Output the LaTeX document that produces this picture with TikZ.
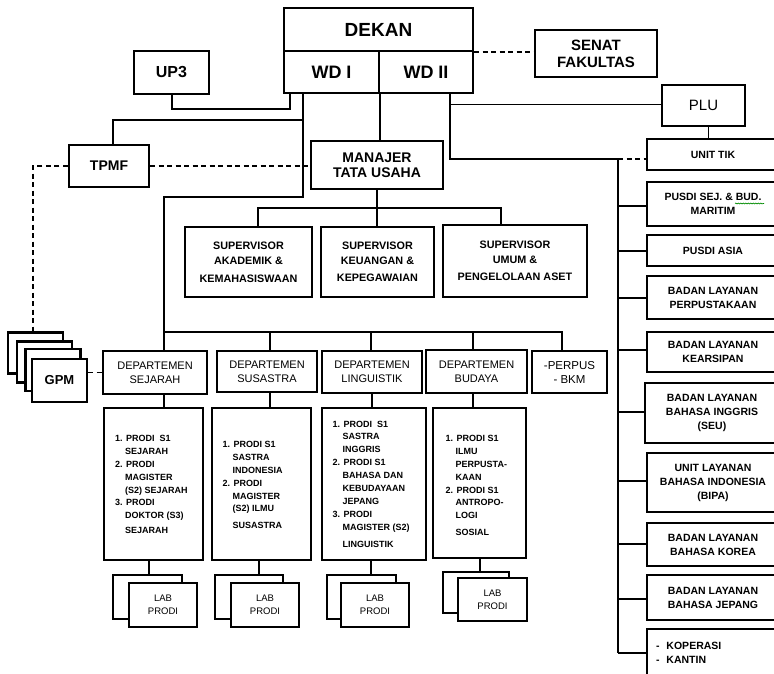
\documentclass[tikz,border=0pt]{standalone}
\usepackage{fontspec}
\setmainfont{Liberation Sans}
\usetikzlibrary{calc,decorations.pathmorphing}
\newcommand{\prodind}{\hspace*{10pt}}
\begin{document}
\begin{tikzpicture}[x=1pt,y=-1pt,
  box/.style={draw, line width=2.2pt, fill=white, inner sep=1pt, align=center},
  conn/.style={line width=1.8pt},
  thinconn/.style={line width=1pt},
  dconn/.style={line width=1.8pt, dash pattern=on 5pt off 3.5pt},
  fdekan/.style={font=\fontsize{19}{21}\selectfont\bfseries},
  fwd/.style={font=\fontsize{18}{20}\selectfont\bfseries},
  fsenat/.style={font=\fontsize{15}{17}\selectfont\bfseries},
  fup/.style={font=\fontsize{16}{18}\selectfont\bfseries},
  fplu/.style={font=\fontsize{15}{17}\selectfont},
  fmid/.style={font=\fontsize{14}{15}\selectfont\bfseries},
  fsup/.style={font=\fontsize{10.8}{15}\selectfont\bfseries},
  fdep/.style={font=\fontsize{11}{14}\selectfont},
  fprodi/.style={font=\fontsize{9}{12.9}\selectfont\bfseries},
  flab/.style={font=\fontsize{9.5}{13}\selectfont},
  fgpm/.style={font=\fontsize{13}{15}\selectfont\bfseries},
  fright/.style={font=\fontsize{10.5}{14}\selectfont\bfseries},
  rbox/.style={box, fright, minimum width=132pt}
]
\useasboundingbox (0,0) rectangle (774,674);

% top
\node[box, fdekan, minimum width=189pt, minimum height=43pt] (dekan) at (378.5,29.5) {DEKAN};
\node[box, fwd, minimum width=95pt, minimum height=42pt] (wd1) at (331.5,72) {WD I};
\node[box, fwd, minimum width=94pt, minimum height=42pt] (wd2) at (426,72) {WD II};
\node[box, fsenat, minimum width=122pt, minimum height=47pt] (senat) at (596,53.5) {SENAT\\FAKULTAS};
\node[box, fup, minimum width=75pt, minimum height=43pt] (up3) at (171.5,72.5) {UP3};
\node[box, fplu, minimum width=83pt, minimum height=41pt] (plu) at (703.5,105.5) {PLU};
\node[box, fmid, minimum width=80pt, minimum height=42pt] (tpmf) at (109,166) {TPMF};
\node[box, fmid, minimum width=132pt, minimum height=48pt] (manajer) at (377,165) {MANAJER\\TATA USAHA};

% supervisors
\node[box, fsup, minimum width=127pt, minimum height=70pt] (sup1) at (248.5,262) {SUPERVISOR\\AKADEMIK \&\\[3pt]KEMAHASISWAAN};
\node[box, fsup, minimum width=113pt, minimum height=70pt] (sup2) at (377.5,262) {SUPERVISOR\\KEUANGAN \&\\[2pt]KEPEGAWAIAN};
\node[box, fsup, minimum width=144pt, minimum height=72pt] (sup3) at (515,261) {SUPERVISOR\\UMUM \&\\[2pt]PENGELOLAAN ASET};

% GPM stack
\node[box, minimum width=55pt, minimum height=41pt] (g1) at (35.5,353) {};
\node[box, minimum width=55pt, minimum height=41pt] (g2) at (44.5,362) {};
\node[box, minimum width=55pt, minimum height=42pt] (g3) at (53,370) {};
\node[box, fgpm, minimum width=55pt, minimum height=43pt] (g4) at (59.5,380.5) {GPM};

% departments
\node[box, fdep, minimum width=104pt, minimum height=43pt] (dep1) at (155,372.5) {DEPARTEMEN\\SEJARAH};
\node[box, fdep, minimum width=100pt, minimum height=41pt] (dep2) at (267,371.5) {DEPARTEMEN\\SUSASTRA};
\node[box, fdep, minimum width=100pt, minimum height=42pt] (dep3) at (372,372) {DEPARTEMEN\\LINGUISTIK};
\node[box, fdep, minimum width=101pt, minimum height=43pt] (dep4) at (476.5,371.5) {DEPARTEMEN\\BUDAYA};
\node[box, font=\fontsize{11.5}{14}\selectfont, minimum width=75pt, minimum height=42pt] (perpus) at (569.5,372) {-PERPUS\\- BKM};

% prodi boxes
\node[box, minimum width=99pt, minimum height=152pt] (p1) at (153.5,484) {};
\node[box, minimum width=99pt, minimum height=152pt] (p2) at (261.5,484) {};
\node[box, minimum width=104pt, minimum height=152pt] (p3) at (374,484) {};
\node[box, minimum width=93pt, minimum height=150pt] (p4) at (479.5,483) {};

\node[fprodi, anchor=west, align=left, inner sep=0pt] (p1t) at (115,484.5) {1. PRODI\ \ S1\\
\prodind SEJARAH\\
2. PRODI\\
\prodind MAGISTER\\
\prodind (S2) SEJARAH\\
3. PRODI\\
\prodind DOKTOR (S3)\\[2pt]
\prodind SEJARAH};
\node[fprodi, anchor=west, align=left, inner sep=0pt] (p2t) at (222.5,485) {1. PRODI S1\\
\prodind SASTRA\\
\prodind INDONESIA\\
2. PRODI\\
\prodind MAGISTER\\
\prodind (S2) ILMU\\[4pt]
\prodind SUSASTRA};
\node[fprodi, anchor=west, align=left, inner sep=0pt] (p3t) at (332.5,484) {1. PRODI\ \ S1\\
\prodind SASTRA\\
\prodind INGGRIS\\
2. PRODI S1\\
\prodind BAHASA DAN\\
\prodind KEBUDAYAAN\\
\prodind JEPANG\\
3. PRODI\\
\prodind MAGISTER (S2)\\[4pt]
\prodind LINGUISTIK};
\node[fprodi, anchor=west, align=left, inner sep=0pt] (p4t) at (445.5,485.5) {1. PRODI S1\\
\prodind ILMU\\
\prodind PERPUSTA-\\
\prodind KAAN\\
2. PRODI S1\\
\prodind ANTROPO-\\
\prodind LOGI\\[4pt]
\prodind SOSIAL};

% labs
\node[box, minimum width=69pt, minimum height=44pt] (l1b) at (147.5,597) {};
\node[box, flab, minimum width=68pt, minimum height=44pt] (l1f) at (163,605) {LAB\\PRODI};
\node[box, minimum width=68pt, minimum height=44pt] (l2b) at (249,597) {};
\node[box, flab, minimum width=68pt, minimum height=44pt] (l2f) at (265,605) {LAB\\PRODI};
\node[box, minimum width=69pt, minimum height=44pt] (l3b) at (361.5,597) {};
\node[box, flab, minimum width=68pt, minimum height=44pt] (l3f) at (375,605) {LAB\\PRODI};
\node[box, minimum width=66pt, minimum height=41pt] (l4b) at (476,592.5) {};
\node[box, flab, minimum width=69pt, minimum height=43pt] (l4f) at (492.5,599.5) {LAB\\PRODI};

% right column
\node[rbox, minimum height=31pt] (tik) at (713,154.5) {UNIT TIK};
\node[rbox, minimum height=44pt] (psej) at (713,204) {PUSDI SEJ. \& BUD.\\MARITIM};
\node[rbox, minimum height=31pt] (pasia) at (713,250.5) {PUSDI ASIA};
\node[rbox, minimum height=43pt] (bperp) at (713,297.5) {BADAN LAYANAN\\PERPUSTAKAAN};
\node[rbox, minimum height=40pt] (bkear) at (713,352) {BADAN LAYANAN\\KEARSIPAN};
\node[rbox, minimum width=134pt, minimum height=60pt] (bing) at (712,413) {BADAN LAYANAN\\BAHASA INGGRIS\\(SEU)};
\node[rbox, minimum height=59pt] (bipa) at (713,482.5) {UNIT LAYANAN\\BAHASA INDONESIA\\(BIPA)};
\node[rbox, minimum height=43pt] (bkor) at (713,544.5) {BADAN LAYANAN\\BAHASA KOREA};
\node[rbox, minimum height=45pt] (bjep) at (713,597.5) {BADAN LAYANAN\\BAHASA JEPANG};
\node[rbox, minimum height=47pt, align=left, text width=114pt] (kop) at (713,652.5) {-\ \ KOPERASI\\-\ \ KANTIN};
\draw[green!55!black, line width=0.6pt, decorate, decoration={snake, amplitude=0.5pt, segment length=2.5pt}] (735,203.5) -- (764,203.5);

% connectors: top
\coordinate (ua) at (172,109);
\coordinate (ub) at (290,109);
\draw[conn] (ua |- up3.south) -- (ua) -- (ub) -- (ub |- wd1.south);
\draw[dconn] (dekan.south east) -- (dekan.south east -| senat.west);

\coordinate (xa) at (303,197);
\coordinate (xb) at (164,197);
\draw[conn] (wd1.south -| xa) -- (xa) -- (xb) -- (xb |- dep1.north);
\coordinate (ta) at (303,120);
\coordinate (tb) at (113,120);
\draw[conn] (ta) -- (tb) -- (tb |- tpmf.north);
\draw[dconn] (tpmf.east) -- (tpmf.east -| manajer.west);
\coordinate (ga) at (33,166);
\draw[dconn] (tpmf.west) -- (ga) -- (ga |- g1.north);
\draw[dconn] (dep1.west -| g4.east) -- (dep1.west);

\draw[conn] (wd1.south east) -- (wd1.south east |- manajer.north);

\coordinate (wa) at (450,159);
\coordinate (rtop) at (618,159);
\coordinate (rbot) at (618,653);
\draw[conn] (wa |- wd2.south) -- (wa) -- (rtop);
\draw[dconn] (rtop) -- (rtop -| tik.west);
\coordinate (pa) at (450,105);
\draw[thinconn] (pa) -- (pa -| plu.west);
\coordinate (pb) at (708,0);
\draw[thinconn] (pb |- plu.south) -- (pb |- tik.north);
\draw[conn] (rtop) -- (rbot);
\foreach \nn/\yy in {psej/206, pasia/251, bperp/298, bkear/350, bing/412, bipa/481, bkor/544, bjep/599, kop/653} {
  \coordinate (tmp) at (618,\yy);
  \draw[conn] (tmp) -- (tmp -| \nn.west);
}

% supervisors
\draw[conn] (manajer.south) -- (manajer.south |- sup2.north);
\coordinate (sa) at (258,208);
\coordinate (sc) at (501,208);
\draw[conn] (sa |- sup1.north) -- (sa) -- (sc) -- (sc |- sup3.north);

% department bus
\coordinate (da) at (164,332);
\coordinate (de) at (562,332);
\draw[conn] (da) -- (de) -- (de |- perpus.north);
\foreach \nn/\xx in {dep2/270, dep3/371, dep4/473} {
  \coordinate (tmp) at (\xx,332);
  \draw[conn] (tmp) -- (tmp |- \nn.north);
}
\foreach \dd/\pp/\xx in {dep1/p1/164, dep2/p2/270, dep3/p3/372, dep4/p4/473} {
  \coordinate (tmp) at (\xx,0);
  \draw[conn] (tmp |- \dd.south) -- (tmp |- \pp.north);
}
\foreach \pp/\ll/\xx in {p1/l1b/149, p2/l2b/259, p3/l3b/371, p4/l4b/480} {
  \coordinate (tmp) at (\xx,0);
  \draw[conn] (tmp |- \pp.south) -- (tmp |- \ll.north);
}
\end{tikzpicture}
\end{document}
